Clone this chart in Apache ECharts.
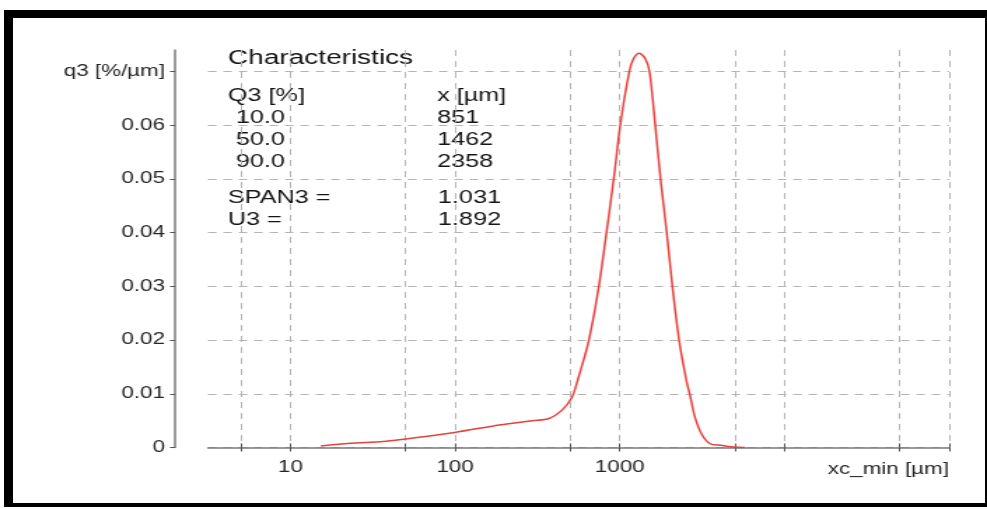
<!DOCTYPE html>
<html>
<head>
<meta charset="utf-8">
<script src="https://cdn.jsdelivr.net/npm/echarts@6/dist/echarts.min.js"></script>
<style>
  html, body { margin: 0; padding: 0; width: 987px; height: 509px; overflow: hidden; background: #fff; }
  /* the source picture is stretched sideways, so the chart is drawn narrow and scaled */
  #main { position: absolute; left: 0; top: 0; width: 705px; height: 509px; transform: scaleX(1.4); transform-origin: 0 0; }
  #frame { position: absolute; left: 4px; top: 10px; width: 983px; height: 497px; box-sizing: border-box;
           border: solid #000; border-width: 8px 2px 4px 9px; pointer-events: none; }
</style>
</head>
<body>
<div id="main"></div>
<div id="frame"></div>
<script>
// particle size (µm) and density distribution q3 (%/µm)
const sizes = [15.3, 23, 36.6, 50.2, 99.3, 186, 295, 372, 448, 512, 555, 650, 747, 831, 920, 1009, 1144, 1215, 1315, 1429, 1517, 1643, 1770, 1931, 2090, 2295, 2540, 2674, 2867, 3144, 3531, 4133, 4556, 4883, 5747]
const q3 = [0.0003, 0.0008, 0.0011, 0.0016, 0.0028, 0.0042, 0.005, 0.0054, 0.007, 0.0093, 0.0125, 0.02, 0.03, 0.04, 0.05, 0.0601, 0.07, 0.0724, 0.0734, 0.0724, 0.07, 0.0601, 0.05, 0.04, 0.03, 0.02, 0.0125, 0.0097, 0.0056, 0.0025, 0.0007, 0.0004, 0.0002, 0.0001, 0]

const xTicks = [5, 10, 50, 100, 500, 1000, 5000, 10000, 50000, 100000]
const xLabels = [10, 100, 1000]
const yTicks = [0, 0.01, 0.02, 0.03, 0.04, 0.05, 0.06, 0.07]

const quantiles = ["10.0", "50.0", "90.0"]
const quantileSizes = ["851", "1462", "2358"]
const span3 = "1.031"
const u3 = "1.892"

const FONT = "Liberation Sans, Arial, sans-serif"
const S = 1.4 // horizontal stretch

const chart = echarts.init(document.getElementById("main"))

const txt = (text, x, y, size) => ({
  type: "text",
  x: x / S,
  y: y,
  style: { text: text, fontSize: size, fontFamily: FONT, fill: "#141414", verticalAlign: "middle" },
})

const graphics = [
  txt("Characteristics", 228, 58, 20),
  txt("Q3 [%]", 228, 96, 18),
  txt("x [µm]", 437, 96, 18),
]
quantiles.forEach((q, i) => {
  graphics.push(txt(q, 236, 118 + i * 22, 18))
  graphics.push(txt(quantileSizes[i], 437, 118 + i * 22, 18))
})
graphics.push(txt("SPAN3 =", 228, 198, 18))
graphics.push(txt(span3, 438, 198, 18))
graphics.push(txt("U3 =", 228, 220, 18))
graphics.push(txt(u3, 438, 220, 18))

const option = {
  animation: false,
  grid: { left: 208 / S, right: 38 / S, top: 50, bottom: 61.5, containLabel: false },
  xAxis: [
    {
      type: "log",
      logBase: 10,
      min: 3.16,
      max: 100000,
      axisLine: { show: true, onZero: false, lineStyle: { color: "#7a7a7a", width: 1.5 } },
      axisTick: { show: true, length: 4, customValues: xTicks, lineStyle: { color: "#555" } },
      axisLabel: {
        customValues: xLabels,
        color: "#262626",
        fontSize: 16,
        fontFamily: FONT,
        margin: 12,
        formatter: (v) => String(v),
      },
      splitLine: { show: true, lineStyle: { color: "#b4b4b4", type: [6, 5] } },
      name: "xc_min [µm]",
      nameLocation: "end",
      nameGap: 0,
      nameTextStyle: { color: "#262626", fontSize: 16, fontFamily: FONT, align: "right", verticalAlign: "top", padding: [14, 0, 0, 0] },
    },
    {
      type: "log",
      logBase: 10,
      min: 3.16,
      max: 100000,
      position: "bottom",
      axisLine: { show: false },
      axisTick: { show: true, inside: true, length: 4, customValues: xTicks, lineStyle: { color: "#555" } },
      axisLabel: { show: false },
      splitLine: { show: false },
    },
  ],
  yAxis: {
    type: "value",
    min: 0,
    max: 0.074,
    offset: 33 / S,
    axisLine: { show: true, lineStyle: { color: "#7a7a7a", width: 1.5 } },
    axisTick: { show: true, length: 5 / S, customValues: yTicks, lineStyle: { color: "#555" } },
    axisLabel: {
      customValues: yTicks,
      color: "#262626",
      fontSize: 16,
      fontFamily: FONT,
      margin: 10 / S,
      formatter: (v) => (Math.abs(v - 0.07) < 1e-9 ? "q3 [%/µm]" : v === 0 ? "0" : v.toFixed(2)),
    },
    splitLine: { show: true, lineStyle: { color: "#b4b4b4", type: [6, 5] } },
  },
  graphic: graphics,
  series: [
    {
      type: "line",
      data: sizes.map((s, i) => [s, q3[i]]),
      smooth: 0.3,
      showSymbol: false,
      lineStyle: { color: "#e8403c", width: 1.5 },
    },
  ],
}

chart.setOption(option)
</script>
</body>
</html>
